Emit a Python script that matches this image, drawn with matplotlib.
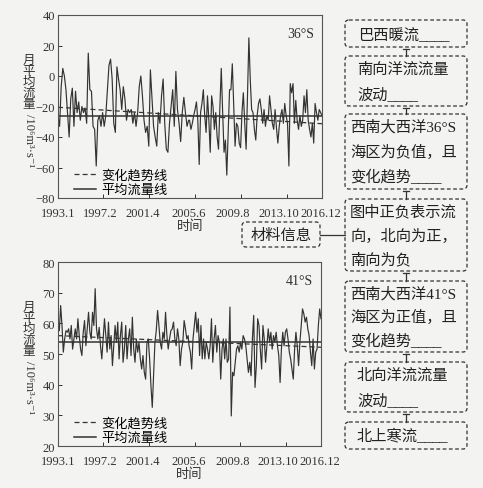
import numpy as np
import matplotlib.pyplot as plt
import matplotlib.transforms as mtrans
from matplotlib.patches import FancyBboxPatch
from matplotlib.lines import Line2D

# time axis: months since 1993.1
tick_pos = [0, 49, 99, 149, 199, 249, 287]
tick_labels = ["1993.1", "1997.2", "2001.4", "2005.6", "2009.8", "2013.10", "2016.12"]

# 36°S monthly mean flow (10^6 m^3/s)
flow36_a = [-26, -33, -7, 5, 0, -9, -24, -40, -15, -8,
            -33, -10, -24, -17, -29, -20, -24, -21, -31, 15,
            -9, -10, -33, -35, -59, -29, -26, -33, -24, -33,
            -26, -9, 7, 11, -2, -31, -37, 6, -2, -9,
            -22, -7, -15, -29, -22, -24, -22, -31, -24, -33,
            -24, -7, 0, -13, -29, -37, -33, -46, 4, -15,
            -33, -40, -46, -24, -31, -13, -2, -31, -48, -50,
            -31, -20, -9, -33, 3, -22, -31, -43, -24, -14,
            -24, -33, -29]
flow36_b = [-29, -35, -31, -26, -22, -17, -29, -58, -24, -18,
            -9, -26, -37, -13, -29, -50, -13, -20, -35, -24,
            -40, -48, -20, 5, -24, -50, -42, -65, -37, -9,
            -9, 8, -18, -46, -31, -33, -44, -47, -24, -11,
            -31, -48, -13, 25, -2, -22, -24, -35, -42, -26,
            -18, -15, -22, -31, -22, -33, -26, -29, -13, -22,
            -31, -35, -22, -34, -44, -33, -26, -22, -31, -18,
            -26, -31, -59, -5, -11, -5, -31, -16, -29, -35,
            -26, -33, -29, -13, -24, -9, -29, -35, -40, -31,
            -44, -18, -24, -29, -22, -24, -26]
mean36 = -26
trend36 = [-20.5, -31.3]

# 41°S monthly mean flow
flow41_a = [59.3, 57.6, 65.8, 59.3, 50.6, 54.9, 57.6, 57.1, 58.2, 54.9,
            59.3, 51.6, 54.9, 58.2, 54.9, 61.5, 56.0, 51.6, 49.5, 57.1,
            60.9, 52.7, 58.2, 63.6, 57.1, 54.9, 63.6, 59.3, 71.3, 58.2,
            54.9, 58.7, 52.7, 48.4, 54.9, 61.5, 56.0, 50.6, 60.4, 51.6,
            56.0, 46.2, 52.7, 59.3, 53.8, 60.4, 48.4, 56.0, 60.4, 47.3,
            51.6, 59.3, 48.4, 54.9, 58.2, 49.5, 62.0, 51.6, 47.3, 54.9,
            50.6, 53.8, 48.4, 45.1, 49.5, 44.0, 41.8, 53.8, 54.9, 48.4,
            39.7, 32.6, 42.9, 53.8, 57.6, 64.2, 59.3, 53.8, 51.6, 57.1,
            54.9, 63.6, 56.0, 51.6, 54.9, 57.6, 58.2, 60.4, 54.9, 52.7,
            58.2, 54.9, 46.2, 51.6, 53.8, 60.9, 58.2, 54.9, 56.0]
flow41_b = [52.7, 50.6, 45.1, 54.9, 59.3, 63.6, 57.1, 61.5, 49.5, 59.3,
            48.4, 54.9, 48.4, 53.8, 51.6, 48.4, 52.7, 61.5, 47.3, 54.9,
            59.3, 50.6, 56.0, 53.8, 41.8, 51.6, 54.9, 48.4, 54.9, 47.3,
            48.4, 65.3, 29.8, 44.0, 42.9, 47.3, 51.6, 52.7, 50.6, 53.8,
            51.6, 56.0, 54.9, 52.7, 48.4, 44.0, 47.3, 42.9, 54.9, 62.6,
            39.1, 46.2, 61.5, 59.3, 51.6, 45.1, 59.3, 54.9, 47.3, 52.7,
            58.2, 53.8, 57.1, 51.6, 56.0, 53.8, 57.1, 52.7, 49.5, 40.7,
            51.6, 57.1, 52.7, 57.1, 58.2, 54.9, 50.6, 48.4, 45.1, 41.8,
            51.6, 57.1, 52.7, 46.2, 53.8, 59.3, 64.7, 63.1, 60.4, 62.0,
            58.2, 56.0, 50.6, 46.2, 54.9, 45.1, 50.6, 51.6, 59.3, 64.7,
            61.5]
mean41 = 54
trend41 = [56, 52.2]

# flow chart on the right
boxes = [
    ["巴西暖流____"],
    ["南向洋流流量", "波动____"],
    ["西南大西洋36°S", "海区为负值，且", "变化趋势____"],
    ["图中正负表示流", "向，北向为正，", "南向为负"],
    ["西南大西洋41°S", "海区为正值，且", "变化趋势____"],
    ["北向洋流流量", "波动____"],
    ["北上寒流____"],
]
box_y = [(21, 48), (57, 107), (115, 190), (200, 272), (282, 353), (363, 413), (423, 450)]
box_text_x = [358, 357, 350, 350, 350, 357, 357]

bg = "#f3f3f1"
ink = "#333333"
serif = ["Liberation Serif", "DejaVu Serif"]
cjk = ["Liberation Serif", "Noto Sans CJK SC", "DejaVu Sans"]

W, H = 483, 489
fig = plt.figure(figsize=(W / 100, H / 100), dpi=100, facecolor=bg)

# overlay in pixel coordinates for free text and the boxes
ov = fig.add_axes([0, 0, 1, 1])
ov.set_xlim(0, W)
ov.set_ylim(H, 0)
ov.axis("off")

# the printed labels sit a little left of their ticks
label_shift = [0, -3, -6, -6, -8, -8, -1]


def rect(x0, y0, x1, y1):
    return [x0 / W, 1 - y1 / H, (x1 - x0) / W, (y1 - y0) / H]


def panel(r, flow_a, flow_b, mean, trend, ylim, yticks, tag, ylab_y):
    ax = fig.add_axes(r)
    ax.set_facecolor(bg)
    months = np.concatenate([np.linspace(0, 142, len(flow_a)),
                             np.linspace(143, 287, len(flow_b))])
    flow = np.concatenate([flow_a, flow_b])
    ax.plot(months, flow, color=ink, lw=0.85)
    h1, = ax.plot([0, 287], trend, color=ink, lw=0.9, ls=(0, (4, 2.5)))
    h2 = ax.axhline(mean, color=ink, lw=1.1)
    ax.set_xlim(0, 287)
    ax.set_ylim(*ylim)
    ax.set_yticks(yticks)
    ax.set_xticks(tick_pos)
    ax.set_xticklabels(tick_labels)
    ax.tick_params(direction="in", length=3, width=0.7, colors=ink, labelsize=9)
    ax.tick_params(axis="x", pad=6.5)
    ax.tick_params(axis="y", pad=2)
    for lab in ax.get_xticklabels() + ax.get_yticklabels():
        lab.set_family(serif)
    for lab, dx in zip(ax.get_xticklabels(), label_shift):
        lab.set_transform(lab.get_transform() +
                          mtrans.ScaledTranslation(dx / 100, 0, fig.dpi_scale_trans))
    for s in ax.spines.values():
        s.set_color("#555555")
        s.set_linewidth(0.8)
    ax.text(0.97, 0.9, tag, transform=ax.transAxes, ha="right", va="center",
            family=serif, fontsize=10, color=ink)
    ax.set_xlabel("时间", family=cjk, fontsize=9.5, color=ink, labelpad=0)
    ax.legend([h1, h2], ["变化趋势线", "平均流量线"], loc="lower left",
              bbox_to_anchor=(0.015, -0.055), frameon=False, handlelength=1.7,
              handletextpad=0.4, labelspacing=0.15,
              prop={"family": "Noto Sans CJK SC", "size": 9.5})
    # vertical y label: stacked characters then rotated unit
    for i, ch in enumerate("月平均流量"):
        ov.text(29, ylab_y + i * 11, ch, ha="center", va="center",
                family=cjk, fontsize=9, color=ink)
    ov.text(29, ylab_y + 4 * 11 + 36, "/10⁶m³·s⁻¹", ha="center", va="center",
            rotation=-90, family=serif, fontsize=9, color=ink)
    return ax


panel(rect(58, 16, 322, 199), flow36_a, flow36_b, mean36, trend36,
      (-80, 40), [-80, -60, -40, -20, 0, 20, 40], "36°S", 61)
panel(rect(58, 263, 321, 447), flow41_a, flow41_b, mean41, trend41,
      (20, 80), [20, 30, 40, 50, 60, 70, 80], "41°S", 308)


def dashed_box(x0, y0, x1, y1):
    ov.add_patch(FancyBboxPatch((x0, y0), x1 - x0, y1 - y0,
                                boxstyle="round,pad=0,rounding_size=4",
                                fill=False, ec="#333333", lw=0.9, ls=(0, (3, 2))))


for lines, (y0, y1), tx in zip(boxes, box_y, box_text_x):
    dashed_box(345, y0, 467, y1)
    step = (y1 - y0) / len(lines)
    for j, t in enumerate(lines):
        ov.text(tx, y0 + step * (j + 0.5), t, ha="left", va="center",
                family=cjk, fontsize=11, color="#222222")

# T-shaped connectors between boxes
for (a0, a1), (b0, b1) in zip(box_y[:-1], box_y[1:]):
    ov.add_line(Line2D([406, 406], [a1 + 2, b0], color="#333333", lw=0.9))
    ov.add_line(Line2D([403, 409], [a1 + 2, a1 + 2], color="#333333", lw=0.9))

# side box 材料信息
dashed_box(242, 223, 320, 248)
ov.text(281, 235.5, "材料信息", ha="center", va="center", family=cjk,
        fontsize=11, color="#222222")
ov.add_line(Line2D([320, 345], [235.5, 235.5], color="#333333", lw=0.9))

fig.savefig("out.png", dpi=100, facecolor=bg)
